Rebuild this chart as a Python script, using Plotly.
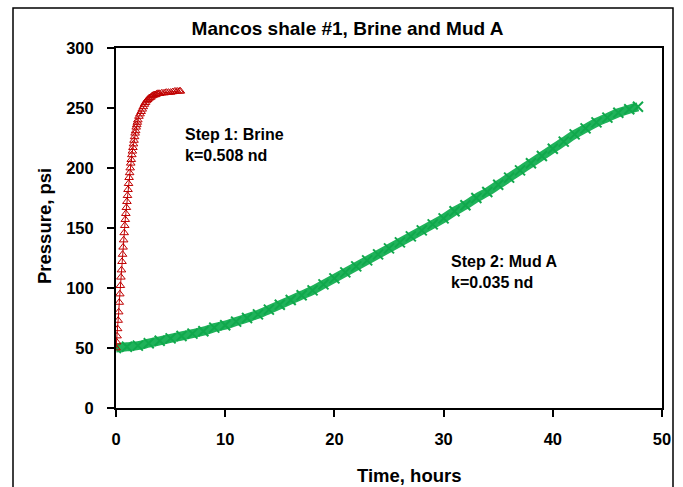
import plotly.graph_objects as go

# Step 1: brine flow, pressure build-up (hours, psi)
brine_hours = [0.00, 0.05, 0.10, 0.15, 0.20, 0.25, 0.30, 0.35, 0.40, 0.45, 0.50,
               0.55, 0.60, 0.65, 0.70, 0.75, 0.80, 0.85, 0.90, 0.95, 1.00, 1.05,
               1.10, 1.15, 1.20, 1.25, 1.30, 1.35, 1.40, 1.45, 1.50, 1.55, 1.60,
               1.65, 1.70, 1.75, 1.80, 1.85, 1.90, 1.95, 2.00, 2.1, 2.2, 2.3, 2.4,
               2.5, 2.6, 2.7, 2.8, 2.9, 3.0, 3.1, 3.2, 3.3, 3.4, 3.5, 3.6, 3.7, 3.8,
               3.9, 4.0, 4.2, 4.4, 4.6, 4.8, 5.0, 5.2, 5.4, 5.6, 5.8, 5.9]
brine_psi = [50, 55, 60, 66, 73, 80, 88, 95, 102, 109, 115,
             122, 128, 134, 140, 146, 152, 157, 162, 167, 172, 177,
             182, 187, 192, 196, 200, 204, 207, 211, 214, 217, 220,
             223, 226, 229, 231, 234, 236, 238, 240, 243, 245, 247, 249,
             251, 253, 254.5, 256, 257, 258, 258.5, 259, 260, 260.5, 261, 261, 261.5, 262,
             262, 262, 262.5, 262.5, 263, 263, 263, 263.5, 264, 264, 264, 264]

# Step 2: Mud A, pressure build-up (hours, psi)
mud_hours = [0, 1, 2, 3, 4, 5, 6, 7, 8, 9, 10, 11, 12, 13, 14, 15, 16, 17, 18, 19,
             20, 21, 22, 23, 24, 25, 26, 27, 28, 29, 30, 31, 32, 33, 34, 35, 36, 37,
             38, 39, 40, 41, 42, 43, 44, 45, 46, 47, 47.8]
mud_psi = [50, 51, 52, 54, 56, 58, 60, 62, 64, 67, 69, 72, 75, 78, 82, 86, 90, 94,
           98, 103, 108, 113, 118, 123, 128, 133, 138, 143, 148, 153, 158, 164, 169,
           175, 180, 186, 192, 198, 204, 210, 216, 222, 228, 233, 238, 242, 246, 249, 251]

# Axis ticks
x_ticks = [0, 10, 20, 30, 40, 50]
y_ticks = [0, 50, 100, 150, 200, 250, 300]

FONT = "Liberation Sans, Arial, sans-serif"
BOLD = dict(family=FONT, color="black", weight="bold")

# Plot-area geometry in pixels
L, R, T, B = 116, 21, 48, 79
W, H = 683, 487
PW, PH = W - L - R, H - T - B


def px_x(px):
    return (px - L) / PW


def px_y(py):
    return (H - B - py) / PH


fig = go.Figure()

fig.add_trace(go.Scatter(
    x=mud_hours, y=mud_psi, mode="lines",
    line=dict(color="#1FB25A", width=9, shape="spline"),
    hoverinfo="skip", showlegend=False,
))
fig.add_trace(go.Scatter(
    x=mud_hours, y=mud_psi, mode="markers",
    marker=dict(symbol="x-thin-open", size=10, color="#10A84C",
                line=dict(color="#10A84C", width=2)),
    name="Mud A", showlegend=False,
))
fig.add_trace(go.Scatter(
    x=brine_hours, y=brine_psi, mode="lines+markers",
    line=dict(color="#C00000", width=1),
    marker=dict(symbol="triangle-up-open", size=7.5, color="#C00000",
                line=dict(color="#C00000", width=1)),
    name="Brine", showlegend=False,
))

axis_common = dict(
    showgrid=False, zeroline=False,
    showline=True, linecolor="black", linewidth=2, mirror=True,
    ticks="outside", ticklen=7, tickwidth=1.5, tickcolor="black",
    tickfont=dict(size=16.5, **BOLD),
)

fig.update_xaxes(range=[0, 50], tickvals=x_ticks, ticklabelstandoff=8, **axis_common)
fig.update_yaxes(range=[0, 300], tickvals=y_ticks, ticklabelstandoff=10, **axis_common)

# Axis titles
fig.add_annotation(
    x=px_x(409), y=px_y(475), xref="paper", yref="paper",
    text="Time, hours", showarrow=False, xanchor="center", yanchor="middle",
    font=dict(size=18.5, **BOLD),
)
fig.add_annotation(
    x=px_x(44), y=px_y(226), xref="paper", yref="paper",
    text="Pressure, psi", showarrow=False, textangle=-90,
    xanchor="center", yanchor="middle",
    font=dict(size=18.5, **BOLD),
)

# Step labels
fig.add_annotation(
    x=6.1, y=219.5, xref="x", yref="y", xanchor="left", yanchor="middle",
    text="Step 1: Brine<br>k=0.508 nd", showarrow=False, align="left",
    font=dict(size=16, **BOLD),
)
fig.add_annotation(
    x=30.5, y=113.5, xref="x", yref="y", xanchor="left", yanchor="middle",
    text="Step 2: Mud A<br>k=0.035 nd", showarrow=False, align="left",
    font=dict(size=16, **BOLD),
)

# Outer frame around the whole chart
fig.add_shape(type="rect", xref="paper", yref="paper",
              x0=px_x(13), x1=px_x(673), y0=px_y(495), y1=px_y(8),
              line=dict(color="black", width=1.5), fillcolor="rgba(0,0,0,0)")

fig.update_layout(
    width=W, height=H,
    margin=dict(l=L, r=R, t=T, b=B),
    paper_bgcolor="white", plot_bgcolor="white",
    title=dict(text="Mancos shale #1, Brine and Mud A",
               x=347.5 / W, xanchor="center", y=1 - 28.5 / H, yanchor="middle",
               font=dict(size=19, **BOLD)),
)

fig.write_html("out.html")
